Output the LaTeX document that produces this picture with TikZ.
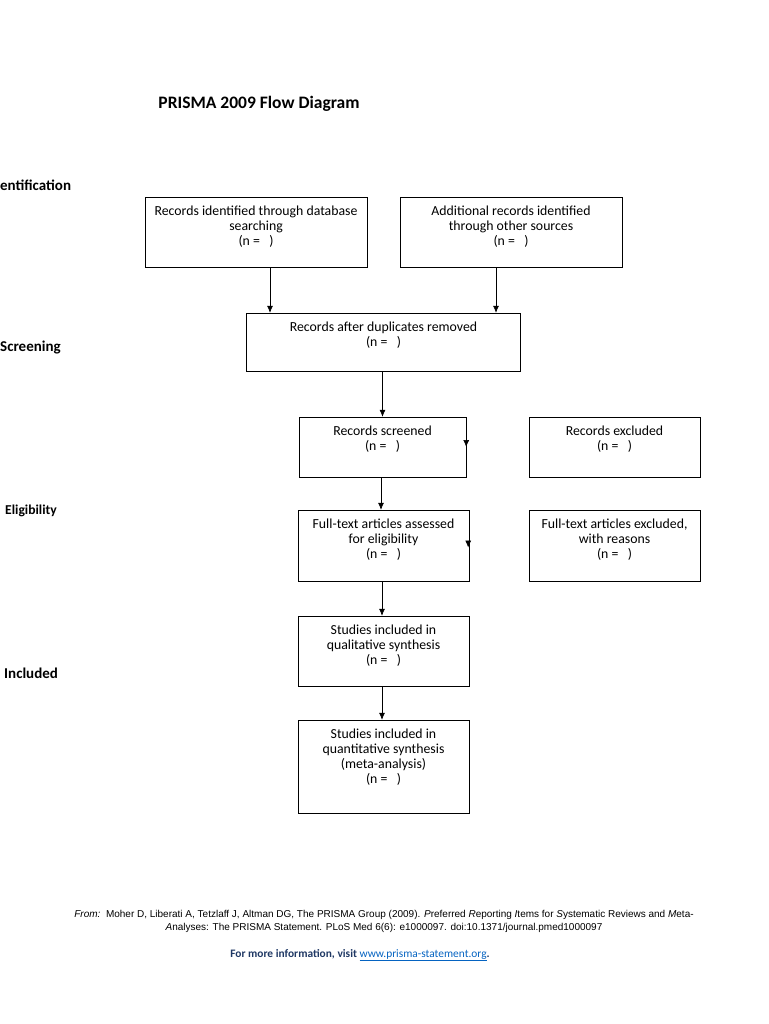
\documentclass[tikz,border=0pt]{standalone}
\usepackage{fontspec}
\setmainfont{Carlito}
\newfontfamily\arialfont{Liberation Sans}
\usetikzlibrary{arrows.meta}
\definecolor{darkblue}{HTML}{1F3864}
\definecolor{linkblue}{HTML}{0563C1}

\tikzstyle{box}=[draw,rectangle,inner sep=0pt]
\tikzstyle{boxtext}=[align=center,anchor=north,inner sep=0pt,yshift=-8.5pt,font=\fontsize{13.8}{15}\selectfont]
\tikzstyle{phase}=[anchor=west,inner sep=0pt,font=\bfseries\fontsize{15}{17}\selectfont]
\tikzset{flow/.style={-{Latex[length=7pt,width=6pt]},semithick}}

\begin{document}
\begin{tikzpicture}[x=1pt,y=-1pt]
	\useasboundingbox (0,0) rectangle (768,1024);
	% title and phases
	\node[font=\bfseries\fontsize{17.5}{20}\selectfont] (title) at (259,104) {PRISMA 2009 Flow Diagram};
	\node[phase] (ident) at (0,185) {entification};
	\node[phase] (screening) at (0,348) {Screening};
	\node[phase,font=\bfseries\fontsize{13.6}{15}\selectfont] (elig) at (5,511) {Eligibility};
	\node[phase] (incl) at (4,673) {Included};
	% boxes
	\node[box,minimum width=222pt,minimum height=70pt,
		label={[boxtext]north:Records identified through database\\searching\\(n =~~~)}] (db) at (256,232) {};
	\node[box,minimum width=222pt,minimum height=70pt,
		label={[boxtext]north:Additional records identified\\through other sources\\(n =~~~)}] (other) at (511,232) {};
	\node[box,minimum width=274pt,minimum height=58pt,
		label={[boxtext]north:Records after duplicates removed\\(n =~~~)}] (dup) at (383.5,342) {};
	\node[box,minimum width=167pt,minimum height=60pt,
		label={[boxtext]north:Records screened\\(n =~~~)}] (screen) at (382.5,447) {};
	\node[box,minimum width=171pt,minimum height=60pt,
		label={[boxtext]north:Records excluded\\(n =~~~)}] (excl) at (614.5,447) {};
	\node[box,minimum width=171pt,minimum height=71pt,
		label={[boxtext]north:Full-text articles assessed\\for eligibility\\(n =~~~)}] (full) at (383.5,545.5) {};
	\node[box,minimum width=171pt,minimum height=71pt,
		label={[boxtext]north:Full-text articles excluded,\\with reasons\\(n =~~~)}] (fullexcl) at (614.5,545.5) {};
	\node[box,minimum width=171pt,minimum height=70pt,
		label={[boxtext]north:Studies included in\\qualitative synthesis\\(n =~~~)}] (qual) at (383.5,651) {};
	\node[box,minimum width=171pt,minimum height=93pt,
		label={[boxtext]north:Studies included in\\quantitative synthesis\\(meta-analysis)\\(n =~~~)}] (quant) at (383.5,766.5) {};
	% arrows
	\draw[flow] ([xshift=14pt]db.south) -- ([xshift=14pt]db.south |- dup.north);
	\draw[flow] ([xshift=-15pt]other.south) -- ([xshift=-15pt]other.south |- dup.north);
	\draw[flow] (screen.north |- dup.south) -- (screen.north);
	\draw[flow] ([xshift=-1.5pt]screen.south) -- ([xshift=-1.5pt]screen.south |- full.north);
	\draw[flow] ([xshift=-1.5pt]full.south) -- ([xshift=-1.5pt]full.south |- qual.north);
	\draw[flow] ([xshift=-1.5pt]qual.south) -- ([xshift=-1.5pt]qual.south |- quant.north);
	\draw[flow] ([yshift=7pt]screen.east) -- ([yshift=0pt]screen.east);
	\draw[flow] ([xshift=-1pt,yshift=5pt]full.east) -- ([xshift=-1pt,yshift=-2pt]full.east);
	% footer
	\node[align=center,font=\arialfont\fontsize{10}{13}\selectfont] (ref) at (384,921.5)
		{\textit{From:}\ \ Moher D, Liberati A, Tetzlaff J, Altman DG, The PRISMA Group (2009). \textit{P}referred \textit{R}eporting \textit{I}tems for \textit{S}ystematic Reviews and \textit{M}eta-\\\textit{A}nalyses: The PRISMA Statement. PLoS Med 6(6): e1000097. doi:10.1371/journal.pmed1000097};
	\node[font=\bfseries\fontsize{11.4}{14}\selectfont,text=darkblue] (info) at (360,955)
		{For more information, visit {\mdseries\color{linkblue}\underline{www.prisma-statement.org}}.};
\end{tikzpicture}
\end{document}
